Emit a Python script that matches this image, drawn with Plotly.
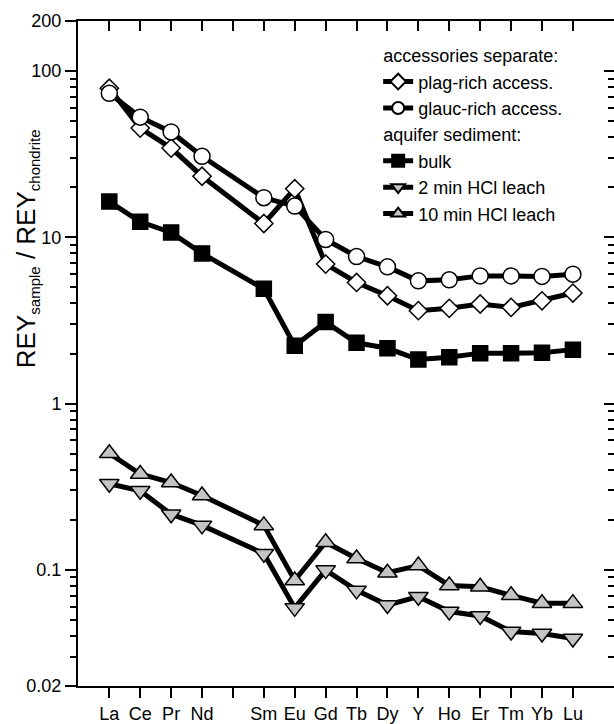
import plotly.graph_objects as go

# ---- data ----
elements = ["La", "Ce", "Pr", "Nd", "Pm", "Sm", "Eu", "Gd", "Tb", "Dy", "Y", "Ho", "Er", "Tm", "Yb", "Lu"]
tick_labels = ["La", "Ce", "Pr", "Nd", "", "Sm", "Eu", "Gd", "Tb", "Dy", "Y", "Ho", "Er", "Tm", "Yb", "Lu"]

plag_rich = [78.8, 45.4, 34.4, 23.3, None, 12.1, 19.6, 6.9, 5.35, 4.45, 3.62, 3.74, 3.97, 3.79, 4.15, 4.62]
glauc_rich = [73.5, 52.8, 43.0, 30.7, None, 17.3, 15.4, 9.7, 7.66, 6.64, 5.47, 5.55, 5.86, 5.86, 5.82, 6.0]
bulk = [16.4, 12.4, 10.7, 8.0, None, 4.9, 2.23, 3.09, 2.32, 2.15, 1.84, 1.90, 2.01, 2.01, 2.02, 2.11]
hcl_2min = [0.329, 0.299, 0.216, 0.185, None, 0.125, 0.059, 0.0996, 0.0752, 0.0614, 0.0689, 0.0561, 0.0528, 0.0425, 0.0414, 0.0386]
hcl_10min = [0.502, 0.377, 0.335, 0.280, None, 0.185, 0.0863, 0.1465, 0.117, 0.096, 0.106, 0.0805, 0.079, 0.0702, 0.0629, 0.063]

y_major = [0.02, 0.1, 1, 10, 100, 200]
y_major_text = ["0.02", "0.1", "1", "10", "100", "200"]
y_minor = [k * 10.0 ** e for e in range(-2, 2) for k in range(2, 10) if 0.021 < k * 10.0 ** e < 99]

FONT = "Liberation Sans, Arial, sans-serif"
GRAY = "#c4c4c4"

series = [
    ("plag-rich access.", plag_rich, "diamond", "white", 14, "acc", "accessories separate:"),
    ("glauc-rich access.", glauc_rich, "circle", "white", 16, "acc", "accessories separate:"),
    ("bulk", bulk, "square", "black", 15, "aq", "aquifer sediment:"),
    ("2 min HCl leach", hcl_2min, "triangle-down", GRAY, 17, "aq", "aquifer sediment:"),
    ("10 min HCl leach", hcl_10min, "triangle-up", GRAY, 17, "aq", "aquifer sediment:"),
]

fig = go.Figure()
for name, vals, sym, fill, size, grp, gtitle in series:
    fig.add_trace(go.Scatter(
        x=elements, y=vals, name=name, mode="lines+markers",
        connectgaps=True,
        line=dict(color="black", width=5),
        marker=dict(symbol=sym, size=size, color=fill, line=dict(color="black", width=1.5)),
        legendgroup=grp,
        legendgrouptitle=dict(text=gtitle, font=dict(family=FONT, size=18, color="black")),
    ))

# dummy trace to host the mirrored (inward) top/right axes
fig.add_trace(go.Scatter(x=[], y=[], xaxis="x2", yaxis="y2", showlegend=False, hoverinfo="skip"))

axis_common = dict(showgrid=False, zeroline=False, showline=True, linecolor="black", linewidth=2,
                   tickcolor="black", tickwidth=2)

y_range = [-1.69897, 2.30103]
x_range = [-1.013, 16.33]

fig.update_layout(
    width=614, height=724,
    margin=dict(l=78, r=0, t=21, b=35),
    paper_bgcolor="white", plot_bgcolor="white",
    font=dict(family=FONT, color="black", size=18),
    xaxis=dict(type="category", categoryorder="array", categoryarray=elements,
               range=x_range, tickmode="array", tickvals=elements, ticktext=tick_labels,
               ticks="outside", ticklen=10, tickfont=dict(size=18), **axis_common),
    xaxis2=dict(type="category", categoryorder="array", categoryarray=elements,
                overlaying="x", side="top", anchor="y", range=x_range,
                tickmode="array", tickvals=elements, ticks="inside", ticklen=10,
                showticklabels=False, **axis_common),
    yaxis=dict(type="log", range=y_range, tickmode="array", tickvals=y_major, ticktext=y_major_text,
               ticks="outside", ticklen=11, tickfont=dict(size=18),
               minor=dict(tickmode="array", tickvals=y_minor, ticks="outside", ticklen=6,
                          tickwidth=2, tickcolor="black", showgrid=False),
               **axis_common),
    yaxis2=dict(type="log", range=y_range, overlaying="y", side="right", anchor="x",
                tickmode="array", tickvals=y_major, ticks="inside", ticklen=10,
                showticklabels=False,
                minor=dict(tickmode="array", tickvals=y_minor, ticks="inside", ticklen=6,
                           tickwidth=2, tickcolor="black", showgrid=False),
                **axis_common),
    legend=dict(x=0.56, y=0.976, xanchor="left", yanchor="top",
                bgcolor="rgba(0,0,0,0)", font=dict(family=FONT, size=18, color="black"),
                tracegroupgap=0, itemsizing="constant", traceorder="grouped"),
    annotations=[dict(
        text="REY<sub><span style='font-size:15px'>sample</span></sub> / REY<sub><span style='font-size:15px'>chondrite</span></sub>",
        xref="paper", yref="paper", x=-0.095, y=0.657, xanchor="center", yanchor="middle",
        textangle=-90, showarrow=False, font=dict(family=FONT, size=26, color="black"))],
)

fig.write_html("out.html")
